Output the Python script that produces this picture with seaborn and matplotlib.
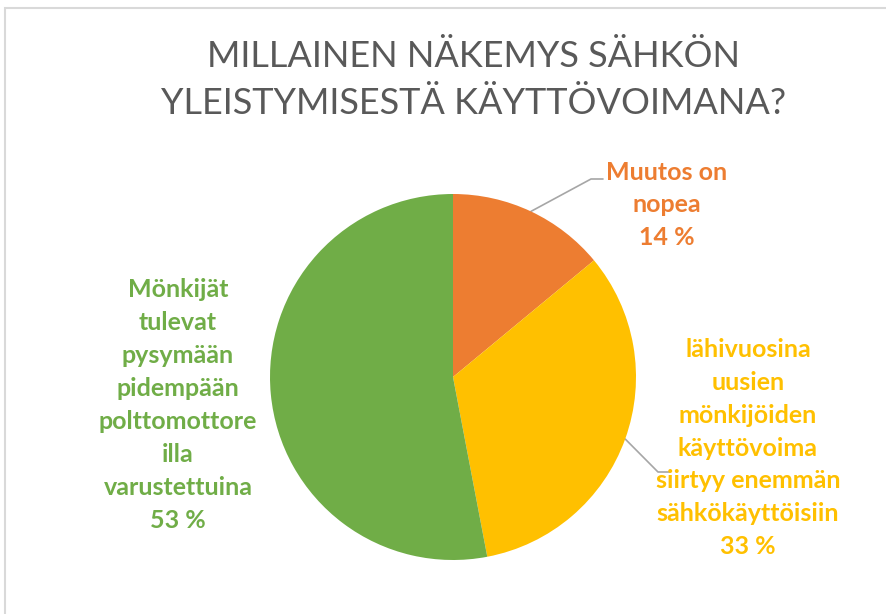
import numpy as np
import matplotlib
matplotlib.use("Agg")
import matplotlib.pyplot as plt
import seaborn as sns
from matplotlib.patches import Rectangle

# Chart data
categories = [
    "Muutos on\nnopea",
    "lähivuosina\nuusien\nmönkijöiden\nkäyttövoima\nsiirtyy enemmän\nsähkökäyttöisiin",
    "Mönkijät\ntulevat\npysymään\npidempään\npolttomottore\nilla\nvarustettuina",
]
values = [14, 33, 53]
colors = ["#ED7D31", "#FFC000", "#70AD47"]
title = "MILLAINEN NÄKEMYS SÄHKÖN\nYLEISTYMISESTÄ KÄYTTÖVOIMANA?"

W, H = 886, 614

sns.set_theme(style="white")
plt.rcParams["font.family"] = ["Lato", "DejaVu Sans"]

fig = plt.figure(figsize=(W / 100, H / 100), dpi=100)
ax = fig.add_axes([0, 0, 1, 1])

# Chart frame (only top and left edges visible)
ax.add_patch(Rectangle((5, -20), W + 20, H - 8 + 20, fill=False,
                       edgecolor="#D9D9D9", linewidth=1.5))

cx, cy, r = 453, H - 377, 183
wedges, _ = ax.pie(values, colors=colors, startangle=90, counterclock=False,
                   center=(cx, cy), radius=r, frame=True,
                   wedgeprops=dict(linewidth=0))
ax.set_xlim(0, W)
ax.set_ylim(0, H)
ax.set_aspect("equal")
ax.axis("off")

# Title
ax.text(474, H - 80, title, ha="center", va="center", fontsize=26,
        color="#595959", fontweight="normal", linespacing=1.55)

# Data labels
label_pos = [(667, H - 205), (748, H - 448), (178, H - 405)]
for cat, val, col, (lx, ly) in zip(categories, values, colors, label_pos):
    ax.text(lx, ly, f"{cat}\n{val} %", ha="center", va="center",
            fontsize=18, fontweight="bold", color=col, linespacing=1.52)

# Leader lines from slice middles
elbows = {0: [(591, H - 179), (603, H - 179)],
          1: [(658, H - 472), (670, H - 472)]}
for i, pts in elbows.items():
    w = wedges[i]
    ang = np.deg2rad((w.theta1 + w.theta2) / 2)
    sx, sy = cx + r * np.cos(ang), cy + r * np.sin(ang)
    xs = [sx] + [p[0] for p in pts]
    ys = [sy] + [p[1] for p in pts]
    ax.plot(xs, ys, color="#A6A6A6", linewidth=1.2, zorder=0.5)

fig.savefig("out.png", dpi=100)
